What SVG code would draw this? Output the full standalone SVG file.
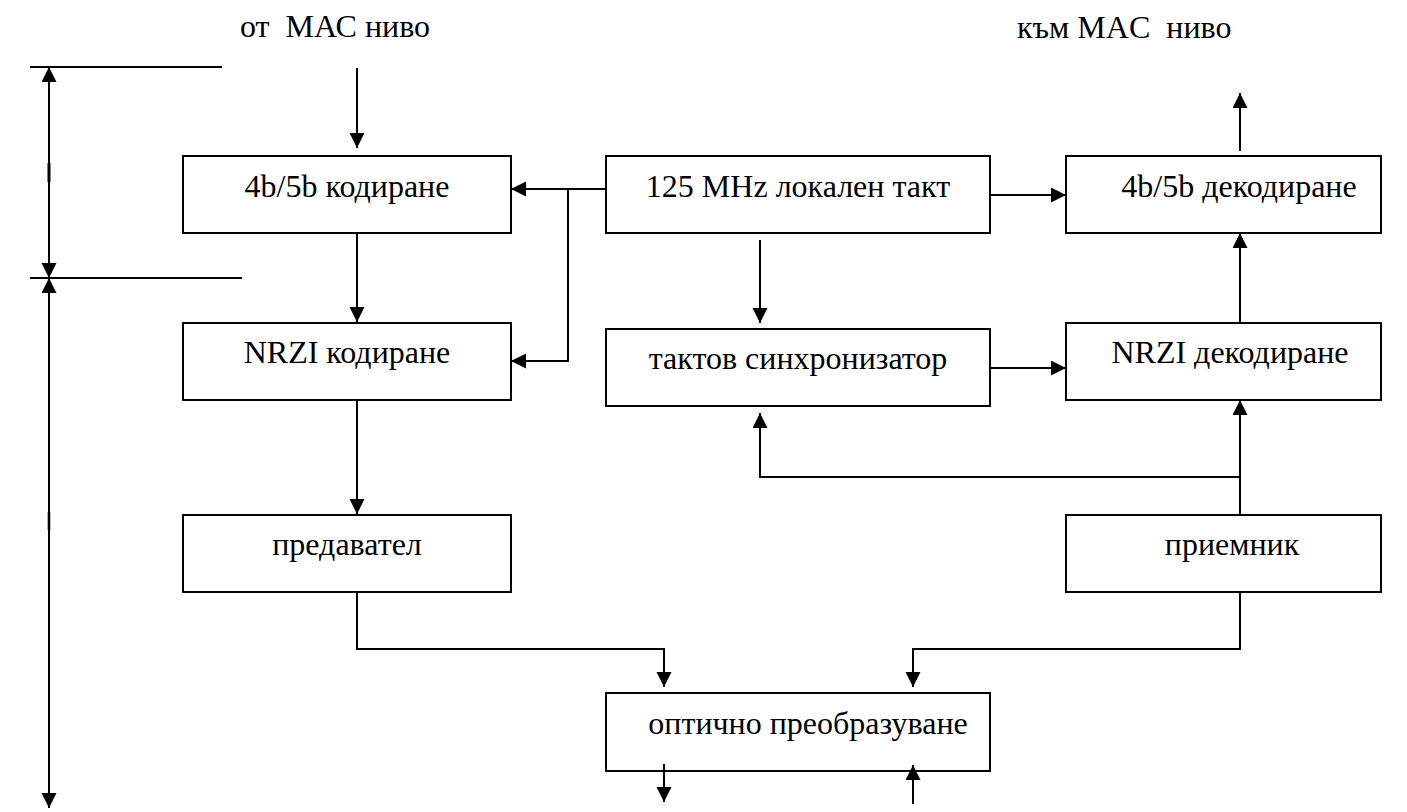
<svg xmlns="http://www.w3.org/2000/svg" width="1407" height="812" viewBox="0 0 1407 812">
  <style>
    .box { fill: #ffffff; stroke: #000000; stroke-width: 2; }
    .lbl { font-family: 'Liberation Serif', 'Times New Roman', serif; font-size: 32px; fill: #000000; text-anchor: middle; }
    .top { font-family: 'Liberation Serif', 'Times New Roman', serif; font-size: 32px; fill: #000000; }
    .ln { fill: none; stroke: #000000; stroke-width: 2; }
    .arr { fill: none; stroke: #000000; stroke-width: 2; marker-end: url(#head); }
    .dim { fill: none; stroke: #000000; stroke-width: 2; marker-start: url(#head); marker-end: url(#head); }
  </style>
  <defs>
    <marker id="head" markerUnits="userSpaceOnUse" markerWidth="16" markerHeight="16" refX="15" refY="7.5" orient="auto-start-reverse">
      <path d="M0,0 L15,7.5 L0,15 Z" fill="#000000"/>
    </marker>
  </defs>
  <rect width="1407" height="812" fill="#ffffff"/>

  <!-- layer labels -->
  <text class="top" x="240" y="37" xml:space="preserve">от  МАС ниво</text>
  <text class="top" x="1017" y="38" xml:space="preserve">към MAC  ниво</text>

  <!-- sublayer dimension marks on the left -->
  <g id="dimensions">
    <line class="ln" x1="30" y1="67" x2="222" y2="67"/>
    <line class="ln" x1="30" y1="278" x2="242" y2="278"/>
    <line class="dim" x1="49" y1="67" x2="49" y2="278"/>
    <line class="dim" x1="49" y1="278" x2="49" y2="808"/>
    <line x1="49" y1="163" x2="49" y2="182" stroke="#000" stroke-width="3"/>
    <line x1="49" y1="512" x2="49" y2="530" stroke="#000" stroke-width="2.6"/>
  </g>

  <!-- transmit side -->
  <g id="enc45">
    <rect class="box" x="183" y="156" width="328" height="77"/>
    <text class="lbl" x="347" y="197">4b/5b кодиране</text>
  </g>
  <g id="nrzi-enc">
    <rect class="box" x="183" y="323" width="328" height="77"/>
    <text class="lbl" x="347" y="363">NRZI кодиране</text>
  </g>
  <g id="tx">
    <rect class="box" x="183" y="515" width="328" height="77"/>
    <text class="lbl" x="347" y="555">предавател</text>
  </g>

  <!-- clock -->
  <g id="clock">
    <rect class="box" x="606" y="156" width="384" height="77"/>
    <text class="lbl" x="798" y="197">125 MHz локален такт</text>
  </g>
  <g id="sync">
    <rect class="box" x="606" y="329" width="384" height="77"/>
    <text class="lbl" x="798" y="369">тактов синхронизатор</text>
  </g>

  <!-- receive side -->
  <g id="dec45">
    <rect class="box" x="1066" y="156" width="315" height="77"/>
    <text class="lbl" x="1239" y="197">4b/5b декодиране</text>
  </g>
  <g id="nrzi-dec">
    <rect class="box" x="1066" y="323" width="315" height="77"/>
    <text class="lbl" x="1230" y="363">NRZI декодиране</text>
  </g>
  <g id="rx">
    <rect class="box" x="1066" y="515" width="315" height="77"/>
    <text class="lbl" x="1232" y="555">приемник</text>
  </g>

  <!-- optics -->
  <g id="optic">
    <rect class="box" x="606" y="693" width="384" height="78"/>
    <text class="lbl" x="808" y="734">оптично преобразуване</text>
  </g>

  <g id="connectors">
    <line class="arr" x1="357" y1="68" x2="357" y2="148"/>
    <line class="arr" x1="357" y1="233" x2="357" y2="322"/>
    <line class="arr" x1="357" y1="400" x2="357" y2="514"/>
    <polyline class="arr" points="357,592 357,649 664,649 664,687"/>
    <line class="arr" x1="664" y1="764" x2="664" y2="802"/>
    <line class="arr" x1="913" y1="804" x2="913" y2="765"/>
    <polyline class="arr" points="1240,592 1240,649 913,649 913,687"/>
    <line class="arr" x1="1240" y1="515" x2="1240" y2="400"/>
    <polyline class="arr" points="1240,477 760,477 760,413"/>
    <line class="arr" x1="1240" y1="323" x2="1240" y2="233"/>
    <line class="arr" x1="1240" y1="151" x2="1240" y2="93"/>
    <line class="arr" x1="990" y1="195" x2="1066" y2="195"/>
    <line class="arr" x1="760" y1="240" x2="760" y2="323"/>
    <line class="arr" x1="990" y1="368" x2="1066" y2="368"/>
    <line class="arr" x1="606" y1="189" x2="511" y2="189"/>
    <polyline class="arr" points="568,189 568,361 511,361"/>
  </g>
</svg>
